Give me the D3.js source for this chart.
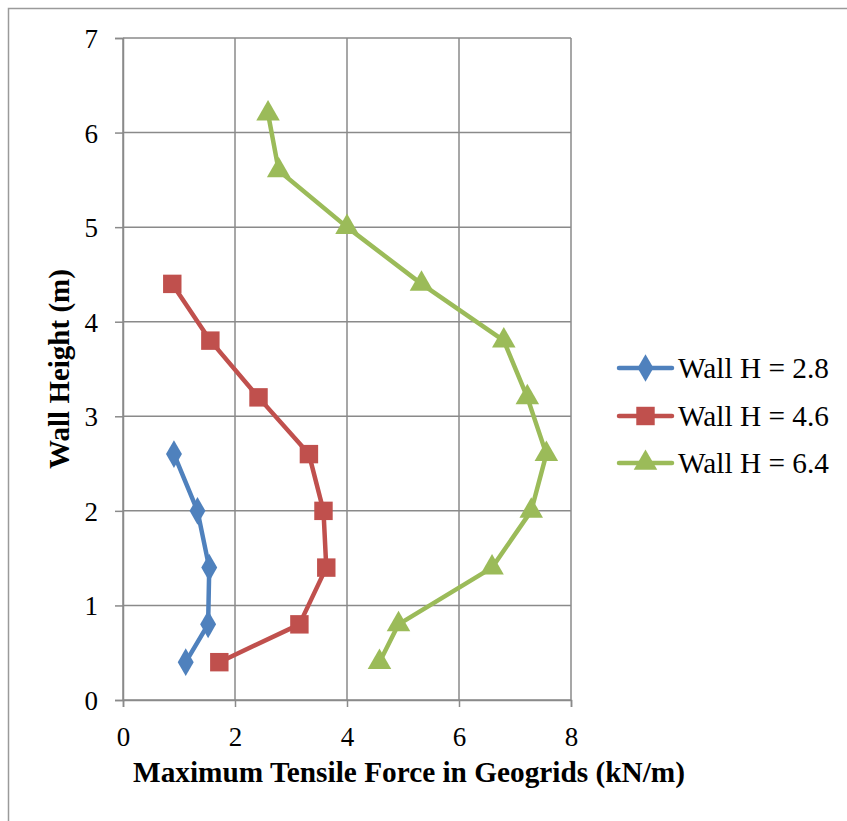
<!DOCTYPE html>
<html>
<head>
<meta charset="utf-8">
<script src="https://cdn.jsdelivr.net/npm/d3@7"></script>
<style>
  html, body { margin: 0; padding: 0; background: #fff; }
  svg { display: block; }
  text { font-family: "Liberation Serif", "Times New Roman", serif; fill: #000; }
</style>
</head>
<body>
<svg id="chart" width="847" height="821"></svg>
<script>
// Wall heights (m) at which geogrid forces were measured
const heights28 = [2.6, 2.0, 1.4, 0.8, 0.4];
const force28   = [0.91, 1.33, 1.54, 1.52, 1.12];

const heights46 = [4.4, 3.8, 3.2, 2.6, 2.0, 1.4, 0.8, 0.4];
const force46   = [0.88, 1.56, 2.42, 3.32, 3.58, 3.63, 3.15, 1.72];

const heights64 = [6.2, 5.6, 5.0, 4.4, 3.8, 3.2, 2.6, 2.0, 1.4, 0.8, 0.4];
const force64   = [2.59, 2.78, 4.0, 5.33, 6.80, 7.22, 7.56, 7.29, 6.59, 4.92, 4.58];

const seriesNames = ["Wall H = 2.8", "Wall H = 4.6", "Wall H = 6.4"];
const xTicks = [0, 2, 4, 6, 8];
const yTicks = [0, 1, 2, 3, 4, 5, 6, 7];

const series = [
  { name: seriesNames[0], x: force28, y: heights28, color: "#4F81BD", symbol: d3.symbolDiamond, size: 220 },
  { name: seriesNames[1], x: force46, y: heights46, color: "#C0504D", symbol: d3.symbolSquare, size: 340 },
  { name: seriesNames[2], x: force64, y: heights64, color: "#9BBB59", symbol: d3.symbolTriangle, size: 240 }
];

const svg = d3.select("#chart");
const plot = { left: 123, right: 571, top: 38, bottom: 700 };
const gridColor = "#8a8a8a";
const serif = '"Liberation Serif", "Times New Roman", serif';

// outer frame
svg.append("rect")
  .attr("x", 8.5).attr("y", 8.5)
  .attr("width", 900).attr("height", 900)
  .attr("fill", "none").attr("stroke", "#9a9a9a").attr("stroke-width", 1.5);

const x = d3.scaleLinear().domain([0, 8]).range([plot.left, plot.right]);
const y = d3.scaleLinear().domain([0, 7]).range([plot.bottom, plot.top]);

// gridlines
const grid = svg.append("g");
grid.selectAll("line.v").data(xTicks).join("line")
  .attr("x1", d => x(d)).attr("x2", d => x(d))
  .attr("y1", plot.top).attr("y2", plot.bottom)
  .attr("stroke", gridColor).attr("stroke-width", 1.5);
grid.selectAll("line.h").data(yTicks).join("line")
  .attr("x1", plot.left).attr("x2", plot.right)
  .attr("y1", d => y(d)).attr("y2", d => y(d))
  .attr("stroke", gridColor).attr("stroke-width", 1.5);

// axes
const xAxis = svg.append("g")
  .attr("transform", `translate(0,${plot.bottom})`)
  .call(d3.axisBottom(x).tickValues(xTicks).tickSize(7).tickPadding(20).tickFormat(d3.format("d")));
const yAxis = svg.append("g")
  .attr("transform", `translate(${plot.left},0)`)
  .call(d3.axisLeft(y).tickValues(yTicks).tickSize(8).tickPadding(17).tickFormat(d3.format("d")));
[xAxis, yAxis].forEach(a => {
  a.select(".domain").attr("stroke", gridColor).attr("stroke-width", 1.5);
  a.selectAll(".tick line").attr("stroke", gridColor).attr("stroke-width", 1.5);
  a.selectAll(".tick text")
    .style("font-family", serif)
    .style("font-size", "27px")
    .style("fill", "#000");
});
yAxis.selectAll(".tick text").attr("dy", "0.35em");

// axis titles
svg.append("text")
  .attr("x", 409).attr("y", 782)
  .attr("text-anchor", "middle")
  .style("font-size", "29.3px").style("font-weight", "bold")
  .text("Maximum Tensile Force in Geogrids (kN/m)");
svg.append("text")
  .attr("transform", `translate(69,369) rotate(-90)`)
  .attr("text-anchor", "middle")
  .style("font-size", "29px").style("font-weight", "bold")
  .text("Wall Height (m)");

// series lines and markers
const line = d3.line().x(d => x(d[0])).y(d => y(d[1]));
series.forEach(s => {
  const pts = s.x.map((v, i) => [v, s.y[i]]);
  svg.append("path")
    .datum(pts)
    .attr("d", line)
    .attr("fill", "none").attr("stroke", s.color)
    .attr("stroke-width", 4.5).attr("stroke-linejoin", "round");
  svg.append("g").selectAll("path").data(pts).join("path")
    .attr("transform", d => `translate(${x(d[0])},${y(d[1])})`)
    .attr("d", d3.symbol().type(s.symbol).size(s.size))
    .attr("fill", s.color);
});

// legend
const legend = svg.append("g");
const legendY = [368, 416, 463];
series.forEach((s, i) => {
  const g = legend.append("g").attr("transform", `translate(0,${legendY[i]})`);
  g.append("line").attr("x1", 619).attr("x2", 672).attr("y1", 0).attr("y2", 0)
    .attr("stroke", s.color).attr("stroke-width", 4.5).attr("stroke-linecap", "round");
  g.append("path").attr("transform", "translate(645.5,0)")
    .attr("d", d3.symbol().type(s.symbol).size(s.size))
    .attr("fill", s.color);
  g.append("text").attr("x", 678).attr("y", 0).attr("dy", "0.35em")
    .style("font-size", "29.3px").text(s.name);
});
</script>
</body>
</html>
